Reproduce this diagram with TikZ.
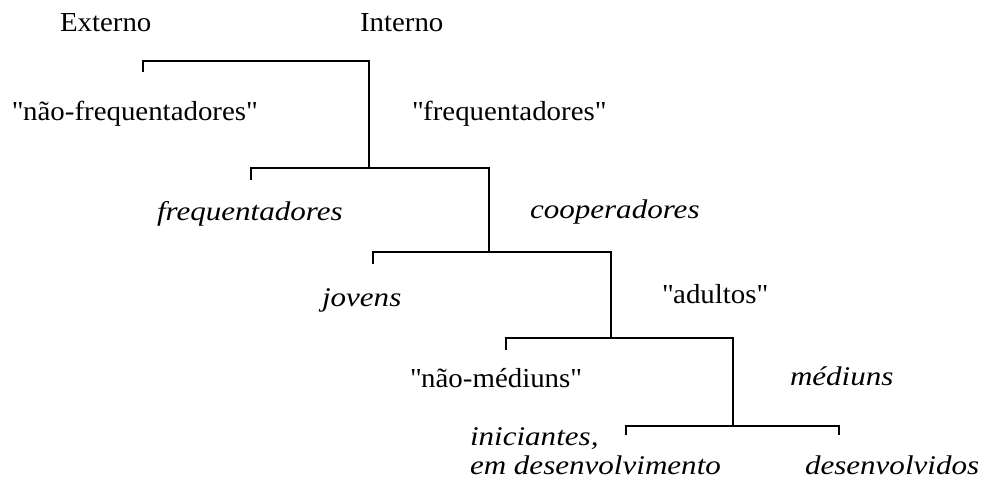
\documentclass[tikz,border=0pt]{standalone}
\usepackage{fontspec}
\setmainfont{Liberation Serif}
\newfontfamily\upfont{Liberation Serif}[FakeStretch=1.05]
\newfontfamily\itfont{Liberation Serif}[FakeStretch=1.15]
\newcommand{\qq}[1]{\textquotedbl#1\textquotedbl}
\begin{document}
\begin{tikzpicture}[x=1pt,y=-1pt,
  lbl/.style={anchor=base west,inner sep=0pt,outer sep=0pt,font=\fontsize{27.5pt}{30pt}\upfont},
  itlbl/.style={anchor=base west,inner sep=0pt,outer sep=0pt,font=\fontsize{27pt}{30pt}\itfont\itshape},
  brk/.style={draw=black,line width=1.8pt,line cap=rect}]
\useasboundingbox (0,0) rectangle (993,491);
% labels
\node[lbl] (ext) at (60,31) {Externo};
\node[lbl] (int) at (360,31) {Interno};
\node[lbl] (nfreq) at (12,120) {\qq{não-frequentadores}};
\node[lbl] (freq) at (412,120) {\qq{frequentadores}};
\node[itlbl] (freqi) at (157,220) {frequentadores};
\node[itlbl] (coop) at (530,218) {cooperadores};
\node[itlbl] (jov) at (322,306) {jovens};
\node[lbl] (adu) at (662,303) {\qq{adultos}};
\node[lbl] (nmed) at (410,387) {\qq{não-médiuns}};
\node[itlbl] (med) at (790,385) {médiuns};
\node[itlbl] (ini) at (470,445) {iniciantes,};
\node[itlbl] (emd) at (470,474) {em desenvolvimento};
\node[itlbl] (des) at (805,474) {desenvolvidos};
% bracket coordinates
\coordinate (a1) at (143,71);  \coordinate (a2) at (143,61);
\coordinate (a3) at (369,61);  \coordinate (a4) at (369,168);
\coordinate (b1) at (251,179); \coordinate (b2) at (251,168);
\coordinate (b3) at (489,168); \coordinate (b4) at (489,252);
\coordinate (c1) at (373,263); \coordinate (c2) at (373,252);
\coordinate (c3) at (611,252); \coordinate (c4) at (611,338);
\coordinate (d1) at (506,349); \coordinate (d2) at (506,338);
\coordinate (d3) at (733,338); \coordinate (d4) at (733,426);
\coordinate (e1) at (626,434); \coordinate (e2) at (626,426);
\coordinate (e3) at (839,426); \coordinate (e4) at (839,434);
% brackets
\draw[brk] (a1) -- (a2) -- (a3) -- (a4);
\draw[brk] (b1) -- (b2) -- (b3) -- (b4);
\draw[brk] (c1) -- (c2) -- (c3) -- (c4);
\draw[brk] (d1) -- (d2) -- (d3) -- (d4);
\draw[brk] (e1) -- (e2) -- (e3) -- (e4);
\end{tikzpicture}
\end{document}
